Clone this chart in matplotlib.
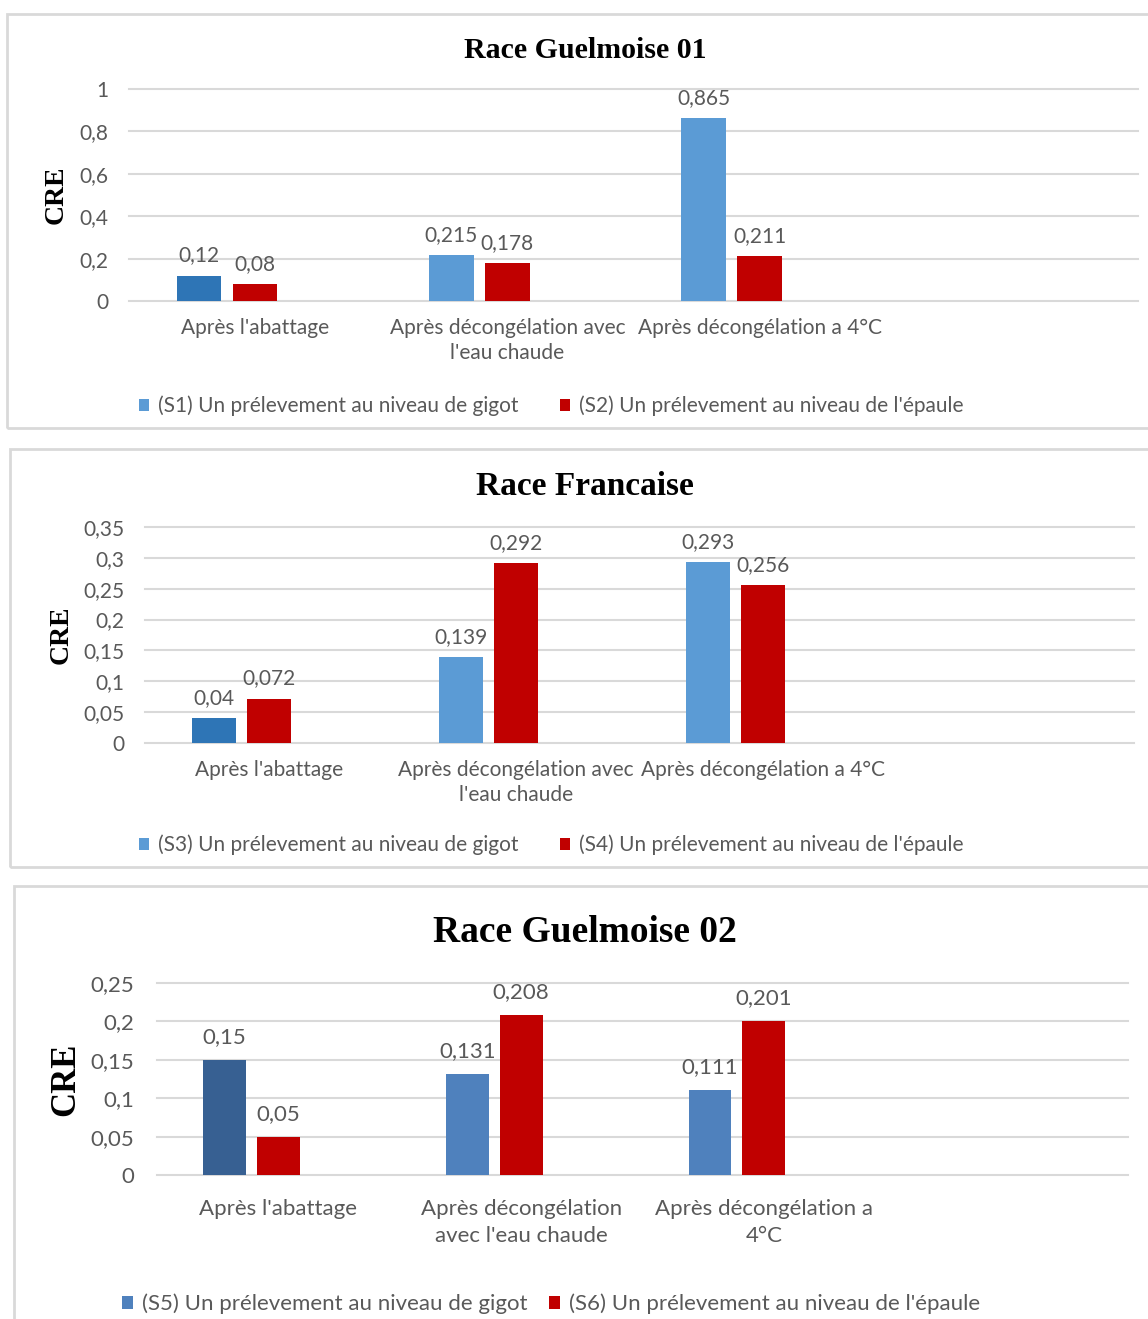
import matplotlib
matplotlib.use("Agg")
import matplotlib.pyplot as plt
from matplotlib.patches import Rectangle

W, H = 1148, 1319
DPI = 100

# ---- data ----
categories_p1 = ["Après l'abattage", "Après décongélation avec\nl'eau chaude",
                 "Après décongélation a 4°C", ""]
categories_p2 = categories_p1
categories_p3 = ["Après l'abattage", "Après décongélation\navec l'eau chaude",
                 "Après décongélation a\n4°C", ""]

gigot_g01 = [0.12, 0.215, 0.865]
epaule_g01 = [0.08, 0.178, 0.211]
gigot_fr = [0.04, 0.139, 0.293]
epaule_fr = [0.072, 0.292, 0.256]
gigot_g02 = [0.15, 0.131, 0.111]
epaule_g02 = [0.05, 0.208, 0.201]

yticks_p1 = [0, 0.2, 0.4, 0.6, 0.8, 1]
yticks_p2 = [0, 0.05, 0.1, 0.15, 0.2, 0.25, 0.3, 0.35]
yticks_p3 = [0, 0.05, 0.1, 0.15, 0.2, 0.25]

legend_p1 = ["(S1) Un prélevement au niveau de gigot", "(S2) Un prélevement au niveau de l'épaule"]
legend_p2 = ["(S3) Un prélevement au niveau de gigot", "(S4) Un prélevement au niveau de l'épaule"]
legend_p3 = ["(S5) Un prélevement au niveau de gigot", "(S6) Un prélevement au niveau de l'épaule"]

titles = ["Race Guelmoise 01", "Race Francaise", "Race Guelmoise 02"]

# ---- style ----
TXT = "#595959"
GRID = "#D9D9D9"
RED = "#C00000"
SANS = "Lato"
SERIF = "Liberation Serif"


def fmt(v):
    return f"{v:g}".replace(".", ",")


fig = plt.figure(figsize=(W / DPI, H / DPI), dpi=DPI)
fig.patch.set_facecolor("white")


def px_axes(x0, y0, x1, y1):
    return fig.add_axes([x0 / W, 1 - y1 / H, (x1 - x0) / W, (y1 - y0) / H])


def frame(x0, y0, x1, y1):
    fig.patches.append(Rectangle((x0 / W, 1 - y1 / H), (x1 - x0) / W, (y1 - y0) / H,
                                 transform=fig.transFigure, fill=False,
                                 edgecolor=GRID, lw=2.0, zorder=0))


def panel(box, frame_box, cats, s1, s2, yticks, title, title_y, title_fs, cre_fs,
          legend_labels, legend_y, legend_x, c1_first, c1, fs, cre_x, lab_off,
          colsp, xpad, ypad, lsp):
    frame(*frame_box)
    ax = px_axes(*box)
    x = list(range(len(s1)))
    off = 0.222
    w = 0.177
    b1 = ax.bar([i - off for i in x], s1, width=w,
                color=[c1_first] + [c1] * (len(s1) - 1), zorder=3)
    b2 = ax.bar(x, s2, width=w, color=RED, zorder=3)
    ax.set_xlim(-0.5, len(cats) - 0.5)
    ax.set_ylim(0, yticks[-1])
    for t in yticks:
        ax.axhline(t, color=GRID, lw=1.5, zorder=1, clip_on=False)
    ax.set_yticks(yticks)
    ax.set_yticklabels([fmt(t) for t in yticks])
    ax.set_xticks(range(len(cats)))
    ax.set_xticklabels(cats, linespacing=lsp)
    ax.tick_params(axis="both", length=0, colors=TXT, labelsize=fs)
    ax.tick_params(axis="y", pad=ypad)
    ax.tick_params(axis="x", pad=xpad)
    for lbl in ax.get_xticklabels() + ax.get_yticklabels():
        lbl.set_fontfamily(SANS)
    for sp in ax.spines.values():
        sp.set_visible(False)
    # value labels above every bar
    for bars, vals in ((b1, s1), (b2, s2)):
        for r, v in zip(bars.patches, vals):
            ax.annotate(fmt(v), (r.get_x() + r.get_width() / 2, v),
                        xytext=(0, lab_off), textcoords="offset pixels",
                        ha="center", va="bottom", fontsize=fs,
                        color=TXT, family=SANS)
    # y axis title
    yc = (box[1] + box[3]) / 2
    fig.text(cre_x / W, 1 - yc / H, "CRE", rotation=90, ha="center", va="center",
             fontsize=cre_fs, fontweight="bold", family=SERIF, color="black")
    # chart title
    fig.text(585 / W, 1 - title_y / H, title, ha="center", va="center",
             fontsize=title_fs, fontweight="bold", family=SERIF, color="black")
    # legend built from the drawn bars
    leg = ax.legend([b1.patches[1], b2.patches[0]], legend_labels, loc="center",
                    bbox_to_anchor=(legend_x / W, 1 - legend_y / H),
                    bbox_transform=fig.transFigure, ncol=2, frameon=False,
                    handlelength=0.5, handleheight=0.5, handletextpad=0.4,
                    columnspacing=colsp, prop={"family": SANS, "size": fs})
    for t in leg.get_texts():
        t.set_color(TXT)
    return ax


panel((129, 89, 1138, 301), (7, 14, 1160, 428), categories_p1, gigot_g01, epaule_g01,
      yticks_p1, titles[0], 50, 21.5, 20, legend_p1, 406, 551, "#2E75B6", "#5B9BD5",
      15, 56, 10, 2.0, 12, 15, 1.35)
panel((145, 527, 1134, 743), (10, 449, 1160, 867), categories_p2, gigot_fr, epaule_fr,
      yticks_p2, titles[1], 487, 24, 20, legend_p2, 845, 551, "#2E75B6", "#5B9BD5",
      15, 61, 10, 2.0, 12, 14.5, 1.35)
panel((157, 983, 1128, 1175), (14, 886, 1160, 1340), categories_p3, gigot_g02, epaule_g02,
      yticks_p3, titles[2], 932, 27, 25, legend_p3, 1304, 551, "#376092", "#4F81BD",
      16, 66, 13, 1.0, 17, 16.5, 1.45)

fig.savefig("out.png", dpi=DPI, facecolor="white")
